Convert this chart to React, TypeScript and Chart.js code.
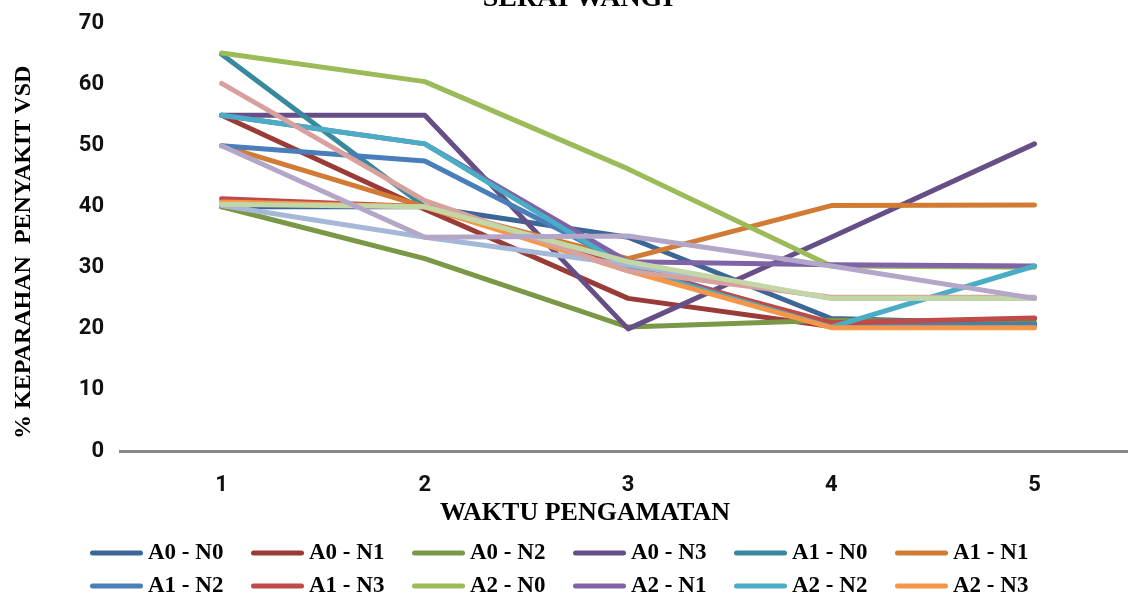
import React, { useEffect, useRef } from 'react';
import { Chart, registerables } from 'chart.js';

Chart.register(...registerables);

const observations = [1, 2, 3, 4, 5];

const seriesNames = [
  'A0 - N0', 'A0 - N1', 'A0 - N2', 'A0 - N3',
  'A1 - N0', 'A1 - N1', 'A1 - N2', 'A1 - N3',
  'A2 - N0', 'A2 - N1', 'A2 - N2', 'A2 - N3',
  'A3 - N0', 'A3 - N1', 'A3 - N2', 'A3 - N3',
];

const a0n0 = [40, 40, 35, 21.7, 20.8];
const a0n1 = [55, 39.6, 25, 20.4, 21.7];
const a0n2 = [40, 31.5, 20.3, 21.4, 21];
const a0n3 = [55, 55, 20, 35, 50.3];
const a1n0 = [65, 40, 30, 20.5, 20.8];
const a1n1 = [50, 40, 31.5, 40.2, 40.3];
const a1n2 = [50, 47.5, 30.5, 20.5, 20.5];
const a1n3 = [41.3, 40, 30, 21, 21.8];
const a2n0 = [65.2, 60.5, 46.2, 30.3, 30.1];
const a2n1 = [55, 50.3, 31, 30.5, 30.3];
const a2n2 = [55, 50.3, 30, 20.3, 30.3];
const a2n3 = [40.8, 40, 29.5, 20.2, 20.2];
const a3n0 = [40.2, 35, 30.5, 25, 25];
const a3n1 = [60.2, 41, 29.5, 25.2, 25.2];
const a3n2 = [40.4, 40, 31, 25, 25];
const a3n3 = [50, 35, 35.2, 30.3, 25];

const seriesValues = [
  a0n0, a0n1, a0n2, a0n3,
  a1n0, a1n1, a1n2, a1n3,
  a2n0, a2n1, a2n2, a2n3,
  a3n0, a3n1, a3n2, a3n3,
];

const seriesColors = [
  '#3C6696', '#9B3B38', '#7A9845', '#664F87',
  '#38899E', '#D17B35', '#4A7EBB', '#BE4B48',
  '#9BBB59', '#7F63A6', '#4AACC5', '#F79646',
  '#A5B8D7', '#D9A19E', '#C3D6A5', '#B3A6C8',
];

const chartTitle = 'SERAI WANGI';
const xTitle = 'WAKTU PENGAMATAN';
const yTitle = '% KEPARAHAN  PENYAKIT VSD';

const serif = '"Liberation Serif", "DejaVu Serif", serif';
const sans = 'Roboto, "Liberation Sans", sans-serif';

const gridLegend = {
  id: 'gridLegend',
  afterDraw(chart: any) {
    const ctx = chart.ctx;
    ctx.save();
    chart.data.datasets.forEach((d: any, i: number) => {
      const col = i % 6;
      const row = Math.floor(i / 6);
      const x = 92.5 + col * 161;
      const y = 573 + row * 33;
      ctx.strokeStyle = d.borderColor;
      ctx.lineWidth = 5;
      ctx.lineCap = 'round';
      ctx.beginPath();
      ctx.moveTo(x, y);
      ctx.lineTo(x + 48, y);
      ctx.stroke();
      ctx.fillStyle = '#000';
      ctx.font = `bold 23px ${serif}`;
      ctx.textBaseline = 'middle';
      ctx.textAlign = 'left';
      ctx.fillText(d.label, x + 55.5, y);
    });
    ctx.restore();
  },
};

export default function App() {
  const ref = useRef<HTMLCanvasElement>(null);

  useEffect(() => {
    if (!ref.current) return;
    const chart = new Chart(ref.current, {
      type: 'line',
      data: {
        datasets: seriesValues.map((vals, i) => ({
          label: seriesNames[i],
          data: vals.map((v, j) => ({ x: observations[j], y: v })),
          borderColor: seriesColors[i],
          backgroundColor: seriesColors[i],
          borderWidth: 5,
          borderCapStyle: 'round',
          borderJoinStyle: 'round',
          pointRadius: 0,
          pointHoverRadius: 0,
          tension: 0,
          fill: false,
          order: seriesValues.length - i,
        })),
      },
      options: {
        animation: false,
        responsive: false,
        events: [],
        layout: { padding: { left: 0, right: 0, top: 0, bottom: 70 } },
        plugins: {
          legend: { display: false },
          tooltip: { enabled: false },
          title: {
            display: true,
            text: '    ' + chartTitle,
            color: '#000',
            font: { family: serif, size: 28, weight: 'bold' },
            padding: { top: 2, bottom: 8 },
          },
        },
        scales: {
          x: {
            type: 'linear',
            min: 0.5,
            max: 5.46,
            afterBuildTicks: (s: any) => {
              s.ticks = observations.map((v) => ({ value: v }));
            },
            afterFit: (s: any) => {
              s.height = 78;
            },
            ticks: {
              padding: 21,
              color: '#111',
              font: { family: sans, size: 22, weight: 'bold' },
              callback: (v: any) => String(v),
            },
            grid: { display: false, drawTicks: false },
            border: { display: true, color: '#888888', width: 3 },
            title: {
              display: true,
              text: xTitle + ' '.repeat(12),
              color: '#000',
              font: { family: serif, size: 26, weight: 'bold' },
              padding: { top: 0, bottom: 0 },
            },
          },
          y: {
            min: 0,
            max: 70,
            afterFit: (s: any) => {
              s.width = 120;
            },
            ticks: {
              stepSize: 10,
              padding: 16,
              color: '#111',
              font: { family: sans, size: 22, weight: 'bold' },
            },
            grid: { display: false, drawTicks: false },
            border: { display: false },
            title: {
              display: true,
              text: yTitle + '     ',
              color: '#000',
              font: { family: serif, size: 24, weight: 'bold' },
              padding: { top: 9.5, bottom: 0 },
            },
          },
        },
      },
      plugins: [gridLegend],
    } as any);
    return () => chart.destroy();
  }, []);

  return (
    <div style={{ position: 'fixed', left: 0, top: 0, width: 1128, height: 599, overflow: 'hidden', background: '#fff' }}>
      <div style={{ position: 'absolute', left: 0, top: -20, width: 1128, height: 619 }}>
        <canvas ref={ref} width={1128} height={619} style={{ display: 'block' }} />
      </div>
    </div>
  );
}
